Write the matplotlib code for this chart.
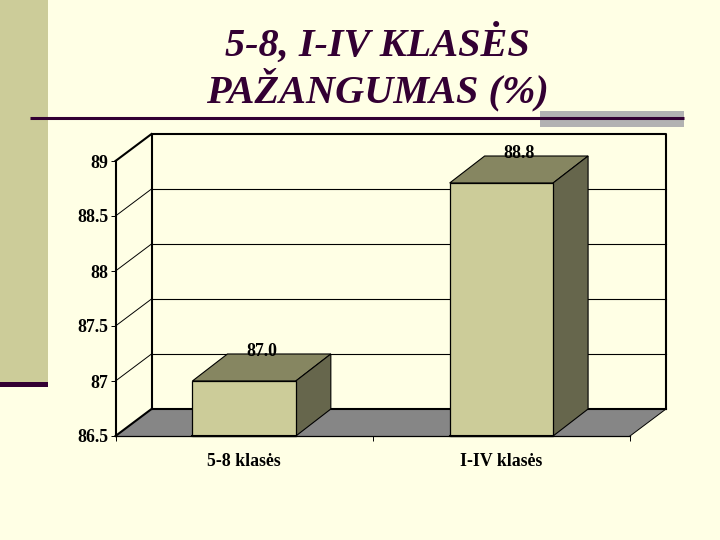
#!/usr/bin/env python

""" 3d look column chart of pazangumas by class group """

import matplotlib.pyplot as plt
from matplotlib.patches import Polygon, Rectangle
from matplotlib.transforms import Affine2D

title = "5-8, I-IV KLASĖS\nPAŽANGUMAS (%)"
categories = ["5-8 klasės", "I-IV klasės"]
values = [87.0, 88.8]
value_labels = ["87.0", "88.8"]
y_ticks = [86.5, 87, 87.5, 88, 88.5, 89]
y_tick_labels = ["86.5", "87", "87.5", "88", "88.5", "89"]

BG = "#FFFFE5"
OLIVE = "#CCCC99"
PURPLE = "#330033"
W, H = 720, 540
DX, DY = 36, 27  # depth of the fake 3d, in pixels
BAR_DX = 35
LABEL_SIZE = 12.8


def main():
    plt.rcParams["font.family"] = "Liberation Serif"
    fig = plt.figure(figsize=(W / 100, H / 100), dpi=100, facecolor=BG)

    # slide decoration, in figure pixels
    deco = fig.add_axes([0, 0, 1, 1], zorder=0)
    deco.set_xlim(0, W)
    deco.set_ylim(H, 0)
    deco.axis("off")
    deco.add_patch(Rectangle((0, 0), 48, 382, fc=OLIVE, ec="none"))
    deco.add_patch(Rectangle((0, 382), 48, 5, fc=PURPLE, ec="none"))
    deco.add_patch(Rectangle((540, 111), 144, 16, fc="#B2B2B2", ec="none"))
    deco.plot([30, 684], [117.5, 117.5], color=PURPLE, lw=2.2,
              solid_capstyle="butt")
    deco.text(377, 67.5, title, ha="center", va="center", color=PURPLE,
              fontsize=29, fontweight="bold", fontstyle="italic",
              linespacing=1.1)

    # front plane of the chart
    ax = fig.add_axes([115.5 / W, 1 - 436 / H, 514.5 / W, 275 / H], zorder=1)
    ax.patch.set_visible(False)
    ax.set_xlim(0, 2)
    ax.set_ylim(86.5, 89)
    for side in ax.spines.values():
        side.set_visible(False)

    back = ax.transData + Affine2D().translate(DX, DY)
    half = ax.transData + Affine2D().translate(BAR_DX / 2, DY / 2 + 3 + DY / 2)

    # back wall and gridlines
    for y in y_ticks[1:-1]:
        ax.plot([0, 2], [y, y], color="black", lw=0.8, transform=back,
                clip_on=False, zorder=1)
    ax.plot([0, 0, 2, 2], [86.5, 89, 89, 86.5], color="black", lw=1.5,
            transform=back, clip_on=False, zorder=2)

    # side wall: diagonals from the front axis to the back wall
    for y in y_ticks:
        x0, y0 = ax.transData.transform((0, y))
        lw = 1.5 if y in (86.5, 89) else 0.7
        ax.plot([x0, x0 + DX], [y0, y0 + DY], color="black", lw=lw,
                transform=None, clip_on=False, zorder=2)
    ax.plot([0, 0], [86.5, 89], color="black", lw=1.5, clip_on=False, zorder=3)

    # floor
    x0, y0 = ax.transData.transform((0, 86.5))
    x1, _ = ax.transData.transform((2, 86.5))
    ax.add_patch(Polygon([(x0, y0), (x1, y0), (x1 + DX, y0 + DY),
                          (x0 + DX, y0 + DY)], fc="#868686", ec="none",
                         transform=None, clip_on=False, zorder=1.5))
    ax.plot([0, 2], [86.5, 86.5], color="black", lw=0.9, clip_on=False, zorder=3)
    ax.plot([0, 2], [86.5, 86.5], color="black", lw=1.5, transform=back,
            clip_on=False, zorder=2)
    ax.plot([x1, x1 + DX], [y0, y0 + DY], color="black", lw=0.7,
            transform=None, clip_on=False, zorder=2)

    # columns
    width = 0.402
    for i, (val, label) in enumerate(zip(values, value_labels)):
        left, right = i + 0.5 - width / 2, i + 0.5 + width / 2
        ax.bar(i + 0.5, val - 86.5, width, bottom=86.5, color=OLIVE,
               edgecolor="black", lw=0.9, clip_on=False, zorder=6)
        (lx, by), (rx, ty) = ax.transData.transform([(left, 86.5), (right, val)])
        ax.add_patch(Polygon([(lx, ty), (rx, ty), (rx + BAR_DX, ty + DY),
                              (lx + BAR_DX, ty + DY)], fc="#868661", ec="black",
                             lw=0.8, transform=None, clip_on=False, zorder=5))
        ax.add_patch(Polygon([(rx, by), (rx + BAR_DX, by + DY),
                              (rx + BAR_DX, ty + DY), (rx, ty)], fc="#66664C",
                             ec="black", lw=0.8, transform=None, clip_on=False,
                             zorder=5))
        ax.plot([left, right], [86.5, 86.5], color="black", lw=1.5,
                clip_on=False, zorder=7)
        ax.text(i + 0.5, val, label, transform=half, ha="center", va="center",
                fontsize=LABEL_SIZE, fontweight="bold", color="black",
                zorder=8, clip_on=False)

    # axis ticks and labels
    ax.set_yticks(y_ticks)
    ax.set_yticklabels(y_tick_labels, fontsize=LABEL_SIZE, fontweight="bold")
    ax.tick_params(axis="y", length=3.5, width=0.7, pad=1.5)
    ax.set_xticks([0, 1, 2])
    ax.set_xticklabels([])
    ax.tick_params(axis="x", length=3.5, width=0.7)
    for i, cat in enumerate(categories):
        ax.annotate(cat, (i + 0.5, 86.5), xytext=(0, -18),
                    textcoords="offset points", ha="center", va="center",
                    fontsize=LABEL_SIZE, fontweight="bold", annotation_clip=False)

    fig.savefig("out.png", dpi=100, facecolor=BG)


if __name__ == "__main__":
    main()
